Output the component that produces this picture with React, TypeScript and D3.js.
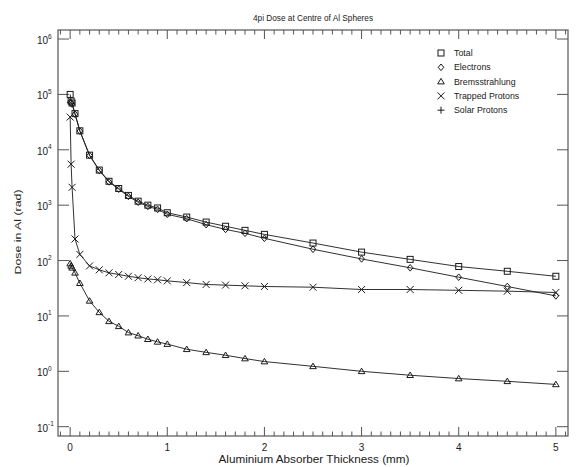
import React from "react";
import * as d3 from "d3";

// aluminium thickness (mm) of each sample
const thickness = [0, 0.01, 0.02, 0.05, 0.1, 0.2, 0.3, 0.4, 0.5, 0.6, 0.7, 0.8, 0.9, 1.0, 1.2, 1.4, 1.6, 1.8, 2.0, 2.5, 3.0, 3.5, 4.0, 4.5, 5.0];

const totalDose = [1.0e5, 7.6e4, 7.0e4, 4.5e4, 2.2e4, 8.0e3, 4.3e3, 2.7e3, 2.0e3, 1.5e3, 1.18e3, 1.0e3, 890, 730, 610, 495, 416, 351, 297, 207, 142, 105, 78, 64, 52];
const electronDose = [7.2e4, 7.0e4, 6.7e4, 4.4e4, 2.18e4, 7.9e3, 4.22e3, 2.63e3, 1.94e3, 1.44e3, 1.13e3, 950, 840, 684, 570, 445, 365, 310, 252, 160, 107, 74, 50, 34, 23];
const bremsDose = [88, 80, 74, 60, 39, 18.7, 11.6, 8.0, 6.5, 5.0, 4.4, 3.8, 3.4, 3.1, 2.5, 2.2, 1.95, 1.7, 1.5, 1.23, 1.0, 0.85, 0.74, 0.66, 0.58];
const trappedDose = [3.9e4, 5.5e3, 2.1e3, 245, 129, 80, 68, 60, 56, 52, 49, 46.5, 45, 43, 40, 37, 36, 35, 34, 33, 30, 30, 29, 28, 26.5];

const legendNames = ["Total", "Electrons", "Bremsstrahlung", "Trapped Protons", "Solar Protons"];
const legendSymbols = ["square", "diamond", "triangle", "cross", "plus"];

const xTicks = [0, 1, 2, 3, 4, 5];
const yExponents = [-1, 0, 1, 2, 3, 4, 5, 6];

const W = 576, H = 467;
const left = 58, right = 568, top = 30, bottom = 436;
const font = "'Liberation Sans', Arial, sans-serif";
const ink = "#1a1a1a";
const axisInk = "#555";

function marker(kind: string, cx: number, cy: number) {
  if (kind === "square") return <rect x={cx - 3} y={cy - 3} width={6} height={6} fill="none" stroke={ink} strokeWidth={1} />;
  if (kind === "diamond") return <path d={`M${cx},${cy - 3.3}L${cx + 2.8},${cy}L${cx},${cy + 3.3}L${cx - 2.8},${cy}Z`} fill="none" stroke={ink} strokeWidth={1} />;
  if (kind === "triangle") return <path d={`M${cx},${cy - 3.2}L${cx + 3.3},${cy + 2.3}L${cx - 3.3},${cy + 2.3}Z`} fill="none" stroke={ink} strokeWidth={1} />;
  if (kind === "cross") return <path d={`M${cx - 3.5},${cy - 3.5}L${cx + 3.5},${cy + 3.5}M${cx - 3.5},${cy + 3.5}L${cx + 3.5},${cy - 3.5}`} stroke={ink} strokeWidth={1} />;
  return <path d={`M${cx - 3.5},${cy}L${cx + 3.5},${cy}M${cx},${cy - 3.5}L${cx},${cy + 3.5}`} stroke={ink} strokeWidth={1} />;
}

export default function App() {
  const x = d3.scaleLinear().domain([-0.125, 5.125]).range([left, right]);
  const y = d3.scaleLog().domain([Math.pow(10, -1.168), Math.pow(10, 6.163)]).range([bottom, top]);

  const series = [
    { values: totalDose, sym: "square" },
    { values: electronDose, sym: "diamond" },
    { values: bremsDose, sym: "triangle" },
    { values: trappedDose, sym: "cross" },
  ];

  const line = d3.line<[number, number]>().x(d => x(d[0])).y(d => y(d[1]));

  const minor = d3.range(-1, 52).map(i => i / 10);

  return (
    <svg width={W} height={H} style={{ position: "absolute", left: 0, top: 0, background: "#fff" }}>
      <rect width={W} height={H} fill="#fff" />
      <text x={313} y={21} textAnchor="middle" fontFamily={font} fontSize={9.5} fill={ink} textLength={120} lengthAdjust="spacingAndGlyphs">4pi Dose at Centre of Al Spheres</text>

      <rect x={left} y={top} width={right - left} height={bottom - top} fill="none" stroke={axisInk} strokeWidth={1.2} />

      {minor.map(v => {
        const major = Math.abs(v - Math.round(v)) < 1e-6;
        const len = major ? 9 : 4.5;
        const px = x(v);
        return (
          <g key={"xt" + v}>
            <line x1={px} x2={px} y1={bottom} y2={bottom - len} stroke={axisInk} strokeWidth={1} />
            <line x1={px} x2={px} y1={top} y2={top + len} stroke={axisInk} strokeWidth={1} />
          </g>
        );
      })}
      {xTicks.map(v => (
        <text key={"xl" + v} x={x(v)} y={451} textAnchor="middle" fontFamily={font} fontSize={10} fill={ink}>{v}</text>
      ))}

      {yExponents.map(e => {
        const py = y(Math.pow(10, e));
        return (
          <g key={"yt" + e}>
            <line x1={left} x2={left + 11} y1={py} y2={py} stroke={axisInk} strokeWidth={1} />
            <line x1={right} x2={right - 11} y1={py} y2={py} stroke={axisInk} strokeWidth={1} />
            <text x={48} y={py + 5} textAnchor="end" fontFamily={font} fontSize={10} fill={ink}>10</text>
            <text x={48} y={py - 0.5} textAnchor="start" fontFamily={font} fontSize={6.5} fill={ink}>{e}</text>
          </g>
        );
      })}

      <text transform={`translate(21,232) rotate(-90)`} textAnchor="middle" fontFamily={font} fontSize={9.5} fill={ink} textLength={85} lengthAdjust="spacingAndGlyphs">Dose in Al (rad)</text>
      <text x={314} y={463} textAnchor="middle" fontFamily={font} fontSize={10} fill={ink} textLength={191} lengthAdjust="spacingAndGlyphs">Aluminium Absorber Thickness (mm)</text>

      {series.map((s, si) => {
        const pts: [number, number][] = thickness.map((t, i) => [t, s.values[i]]);
        return (
          <g key={"s" + si}>
            <path d={line(pts) || ""} fill="none" stroke={ink} strokeWidth={0.9} />
            {pts.map((p, i) => <g key={i}>{marker(s.sym, x(p[0]), y(p[1]))}</g>)}
          </g>
        );
      })}

      {legendNames.map((name, i) => {
        const ry = 53 + i * 14.3;
        return (
          <g key={"lg" + i}>
            {marker(legendSymbols[i], 441, ry)}
            <text x={454} y={ry + 3} fontFamily={font} fontSize={8.8} fill={ink}>{name}</text>
          </g>
        );
      })}
    </svg>
  );
}
